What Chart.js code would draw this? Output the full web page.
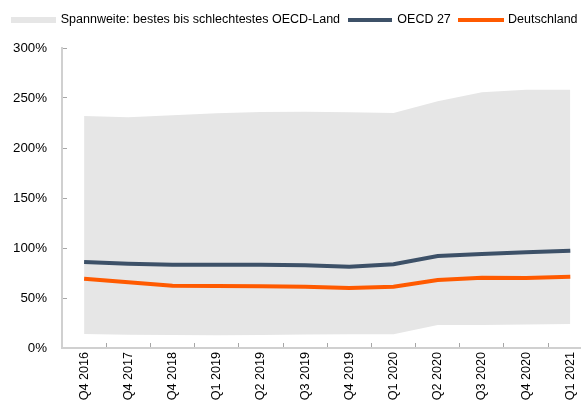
<!DOCTYPE html>
<html>
<head>
<meta charset="utf-8">
<script src="https://cdn.jsdelivr.net/npm/chart.js@4.4.1/dist/chart.umd.min.js"></script>
<style>
  html, body { margin: 0; padding: 0; background: #fff; overflow: hidden; }
  #wrap { width: 600px; height: 410px; }
</style>
</head>
<body>
<div id="wrap"><canvas id="chart" width="600" height="410"></canvas></div>
<script>
const labels = ['Q4 2016', 'Q4 2017', 'Q4 2018', 'Q1 2019', 'Q2 2019', 'Q3 2019',
                'Q4 2019', 'Q1 2020', 'Q2 2020', 'Q3 2020', 'Q4 2020', 'Q1 2021'];
const bandMax = [232, 230.7, 232.7, 234.7, 236, 236.3, 235.7, 235, 246.7, 255.7, 258.3, 258.3];
const bandMin = [14, 13.3, 13, 12.7, 13, 13.5, 13.7, 13.7, 23, 23, 23.5, 24];
const oecd = [86, 84.3, 83.3, 83.3, 83.3, 82.7, 81.3, 83.7, 92, 94, 95.7, 97.3];
const deutschland = [69.3, 65.7, 62.3, 62, 61.7, 61.3, 60, 61.3, 68, 70.3, 70, 71.3];
const yTicks = [0, 50, 100, 150, 200, 250, 300];

const FONT = "'Liberation Sans', Arial, sans-serif";
const bandColor = '#e6e6e6';
const oecdColor = '#3d5168';
const deColor = '#ff5a00';

// small canvas used as legend symbol
function swatch(w, h, color) {
    const c = document.createElement('canvas');
    c.width = w;
    c.height = h;
    const g = c.getContext('2d');
    g.fillStyle = color;
    g.fillRect(0, 0, w, h);
    return c;
}

const ctx = document.getElementById('chart').getContext('2d');
const myChart = new Chart(ctx, {
    type: 'line',
    data: {
        labels: labels,
        datasets: [{
            label: 'OECD 27',
            data: oecd,
            borderColor: oecdColor,
            borderWidth: 4,
            pointRadius: 0,
            fill: false,
            order: 0
        },
        {
            label: 'Deutschland',
            data: deutschland,
            borderColor: deColor,
            borderWidth: 4,
            pointRadius: 0,
            fill: false,
            order: 1
        },
        {
            label: 'max',
            data: bandMax,
            borderWidth: 0,
            borderColor: 'rgba(0,0,0,0)',
            backgroundColor: bandColor,
            pointRadius: 0,
            fill: '+1',
            order: 2
        },
        {
            label: 'min',
            data: bandMin,
            borderWidth: 0,
            borderColor: 'rgba(0,0,0,0)',
            pointRadius: 0,
            fill: false,
            order: 3
        }]
    },
    options: {
        responsive: false,
        animation: false,
        layout: {
            padding: { top: 4.75, left: 3.5, right: 7.6, bottom: 0 }
        },
        plugins: {
            tooltip: { enabled: false },
            legend: {
                align: 'start',
                labels: {
                    usePointStyle: true,
                    pointStyleWidth: 42,
                    padding: 9,
                    color: '#000',
                    font: { family: FONT, size: 12.5 },
                    generateLabels: () => [
                        { text: 'Spannweite: bestes bis schlechtestes OECD-Land', pointStyle: swatch(45, 6, bandColor), datasetIndex: 2, lineWidth: 0 },
                        { text: 'OECD 27', pointStyle: swatch(44, 4, oecdColor), datasetIndex: 0, lineWidth: 0 },
                        { text: 'Deutschland', pointStyle: swatch(46, 4, deColor), datasetIndex: 1, lineWidth: 0 }
                    ]
                }
            }
        },
        scales: {
            x: {
                offset: true,
                afterFit: (scale) => { scale.height = 62; },
                grid: {
                    offset: true,
                    drawOnChartArea: false,
                    tickLength: -5,
                    tickColor: '#a6a6a6',
                    tickWidth: 1
                },
                border: { color: '#d0d0d0', width: 2 },
                ticks: {
                    minRotation: 90,
                    maxRotation: 90,
                    padding: 9,
                    color: '#000',
                    font: { family: FONT, size: 12.6 }
                }
            },
            y: {
                min: 0,
                max: 300,
                afterFit: (scale) => { scale.width = 58.5; },
                afterBuildTicks: (scale) => { scale.ticks = yTicks.map(v => ({ value: v })); },
                grid: {
                    drawOnChartArea: false,
                    tickLength: -5,
                    tickColor: '#a6a6a6',
                    tickWidth: 1
                },
                border: { color: '#d0d0d0', width: 2 },
                ticks: {
                    padding: 20,
                    color: '#000',
                    font: { family: FONT, size: 13.3 },
                    callback: (v) => v + '%'
                }
            }
        }
    },
    plugins: [{
        id: 'legendGap',
        beforeLayout(chart) {
            const legend = chart.legend;
            if (!legend || legend._gapPatched) return;
            const fit = legend.fit;
            legend.fit = function () {
                fit.call(this);
                this.height = 43.25;
            };
            legend._gapPatched = true;
        }
    }]
});
</script>
</body>
</html>
